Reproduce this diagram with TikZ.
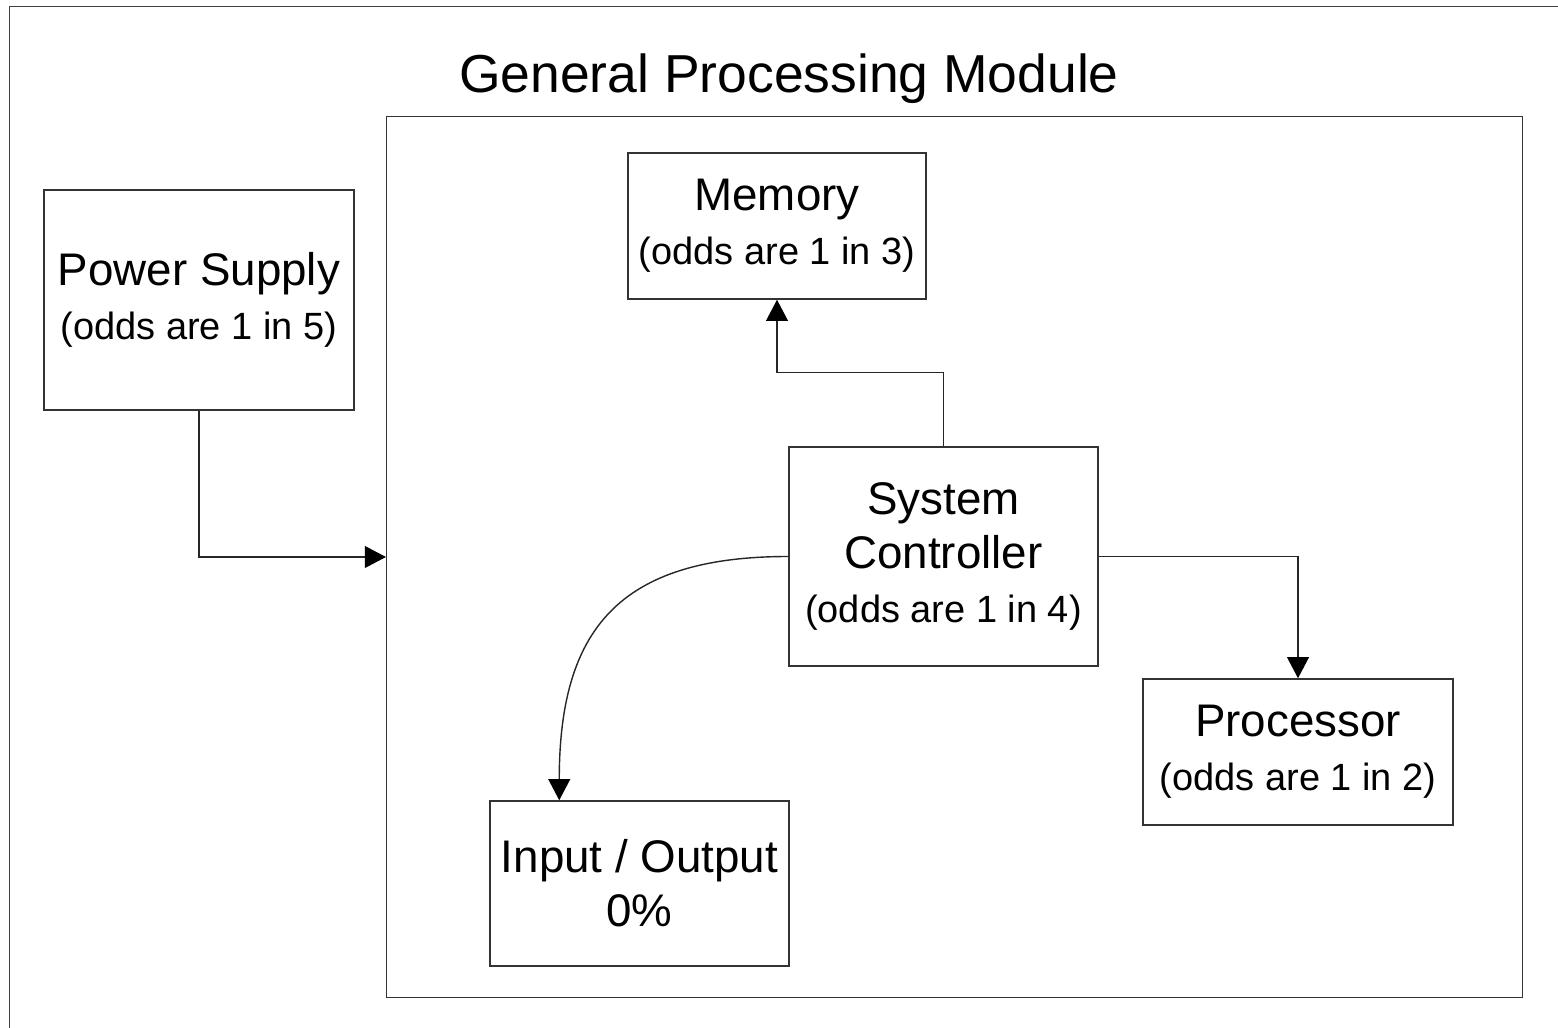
\documentclass[tikz,border=0pt]{standalone}
\usepackage{fontspec}
\setmainfont{Liberation Sans}
\usetikzlibrary{arrows.meta}

\begin{document}
\begin{tikzpicture}[x=0.01cm,y=-0.01cm,
    block/.style={draw=black!80,line width=0.4pt,inner sep=0pt,align=center,
      font=\fontsize{13}{15.3}\selectfont},
    link/.style={draw=black!85,line width=0.4pt,-{Triangle[length=6pt,width=6.2pt,fill=black,color=black]}}]
  \clip (0,0) rectangle (1558,1028);
  \draw[black!75,line width=0.5pt] (9.5,1100) |- (1600,6.5);

  \node[font=\fontsize{15.2}{18}\selectfont] (title) at (789,79) {General Processing Module};

  \node[block,minimum width=11.35cm,minimum height=8.8cm] (gpm) at (954.5,557) {};
  \node[block,minimum width=3.1cm,minimum height=2.2cm] (ps) at (199,300)
    {Power Supply\\{\fontsize{10.8}{15.3}\selectfont (odds are 1 in 5)}};
  \node[block,minimum width=2.98cm,minimum height=1.46cm] (mem) at (777,226)
    {Memory\\{\fontsize{10.8}{15.3}\selectfont (odds are 1 in 3)}};
  \node[block,minimum width=3.09cm,minimum height=2.19cm] (sc) at (943.5,556.5)
    {System\\Controller\\{\fontsize{10.8}{15.3}\selectfont (odds are 1 in 4)}};
  \node[block,minimum width=3.1cm,minimum height=1.46cm] (proc) at (1298,752)
    {Processor\\{\fontsize{10.8}{15.3}\selectfont (odds are 1 in 2)}};
  \node[block,minimum width=2.99cm,minimum height=1.65cm] (io) at (639.5,883.5)
    {Input / Output\\0\%};

  \coordinate (iotop) at ([xshift=0.7cm]io.north west);

  \draw[link] (ps.south) |- (gpm.west);
  \draw[link] (sc.north) -- ++(0,-74) -| (mem.south);
  \draw[link] (sc.east) -| (proc.north);
  \draw[link] (sc.west) .. controls +(-170,0) and +(0,-170) .. (iotop);
\end{tikzpicture}
\end{document}
